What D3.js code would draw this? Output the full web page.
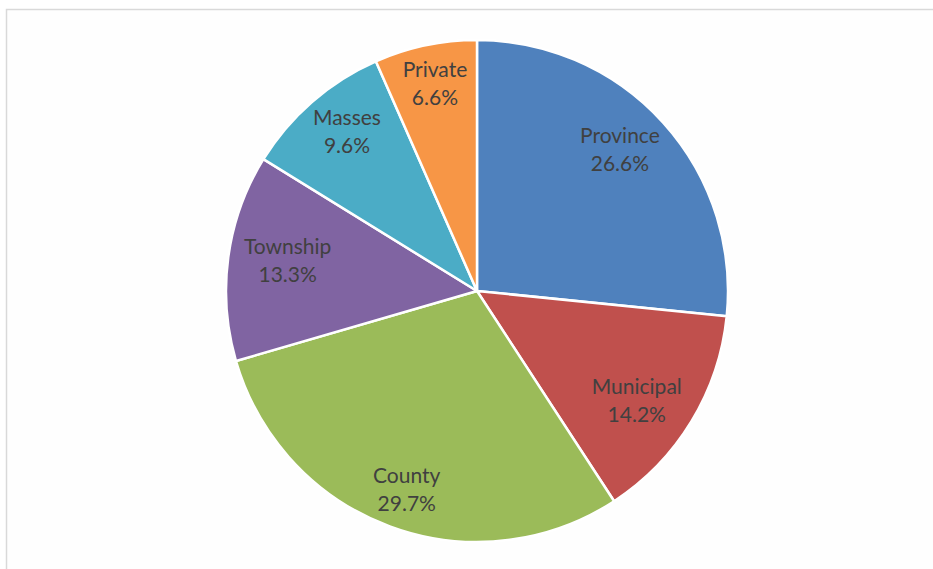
<!DOCTYPE html>
<html>
<head>
<meta charset="utf-8">
<script src="https://cdn.jsdelivr.net/npm/d3@7"></script>
<style>
  html, body { margin: 0; padding: 0; background: #ffffff; }
  svg { display: block; }
</style>
</head>
<body>
<svg id="chart" width="933" height="569"></svg>
<script>
// ---- data ----
const categories = ["Province", "Municipal", "County", "Township", "Masses", "Private"];
const shares = [26.6, 14.2, 29.7, 13.3, 9.6, 6.6];
const colors = ["#4F81BD", "#C0504D", "#9BBB59", "#8064A2", "#4BACC6", "#F79646"];

// ---- layout ----
const W = 933, H = 569;
const cx = 477, cy = 291, R = 251;
// label placement (Excel best-fit): [fraction of radius, angle shift in degrees]
const labelPlace = {
  Province:  [0.78, -1.0],
  Municipal: [0.79,  5.0],
  County:    [0.867, -1.5],
  Township:  [0.76, -0.8],
  Masses:    [0.797, 0.5],
  Private:   [0.814, 0]
};

const svg = d3.select("#chart");

// chart frame
svg.append("rect")
  .attr("x", 6.5).attr("y", 9.5)
  .attr("width", W + 10).attr("height", H + 10)
  .attr("fill", "#fefefe")
  .attr("stroke", "#d9d9d9").attr("stroke-width", 1.5);

const data = categories.map((c, i) => ({ name: c, value: shares[i], color: colors[i] }));

const pie = d3.pie().sort(null).value(d => d.value);
const arcs = pie(data);
const arc = d3.arc().innerRadius(0).outerRadius(R);

const g = svg.append("g").attr("transform", `translate(${cx},${cy})`);

g.selectAll("path.slice")
  .data(arcs)
  .join("path")
  .attr("class", "slice")
  .attr("d", arc)
  .attr("fill", d => d.data.color)
  .attr("stroke", "#ffffff")
  .attr("stroke-width", 2.5)
  .attr("stroke-linejoin", "round");

const labels = g.selectAll("text.lbl")
  .data(arcs)
  .join("text")
  .attr("class", "lbl")
  .attr("transform", d => {
    const [f, shift] = labelPlace[d.data.name];
    const a = (d.startAngle + d.endAngle) / 2 + shift * Math.PI / 180;
    const r = R * f;
    return `translate(${r * Math.sin(a)},${-r * Math.cos(a)})`;
  })
  .attr("text-anchor", "middle")
  .attr("font-family", "Lato, 'Open Sans', sans-serif")
  .attr("font-size", 21)
  .attr("fill", "#404040");

labels.append("tspan")
  .attr("x", 0).attr("y", -14)
  .text(d => d.data.name);
labels.append("tspan")
  .attr("x", 0).attr("y", 14)
  .text(d => d3.format(".1f")(d.data.value) + "%");
</script>
</body>
</html>
